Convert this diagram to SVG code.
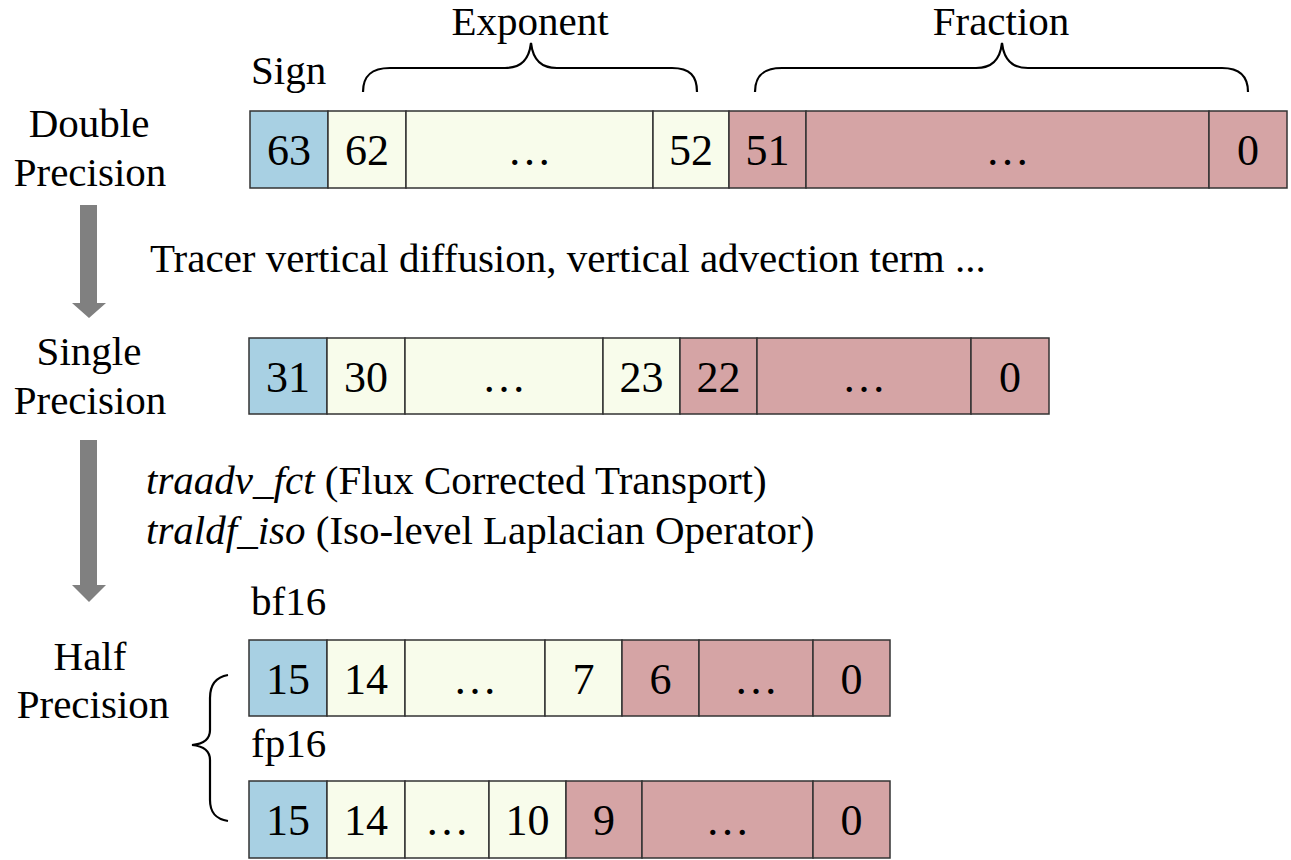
<svg xmlns="http://www.w3.org/2000/svg" width="1291" height="860" viewBox="0 0 1291 860">
  <defs>
    <style>
      .t { font-family: 'Liberation Serif', 'Times New Roman', serif; font-size: 41px; fill: #000; }
      .n { font-family: 'Liberation Serif', 'Times New Roman', serif; font-size: 44px; fill: #000; text-anchor: middle; }
      .mid { text-anchor: middle; }
      .it { font-style: italic; }
      .cell { stroke: #333; stroke-width: 1.5; }
      .sign { fill: #A8D0E3; }
      .exp { fill: #F8FCEB; }
      .frac { fill: #D5A4A5; }
      .brace { fill: none; stroke: #000; stroke-width: 2.2; }
      .arrow { fill: #808080; }
    </style>
  </defs>
  <rect width="1291" height="860" fill="#fff"/>

  <!-- format labels -->
  <g id="label-double">
    <text class="t mid" x="89" y="137">Double</text>
    <text class="t mid" x="90" y="186">Precision</text>
  </g>
  <g id="label-single">
    <text class="t mid" x="89" y="365">Single</text>
    <text class="t mid" x="90" y="414">Precision</text>
  </g>
  <g id="label-half">
    <text class="t mid" x="90" y="670">Half</text>
    <text class="t mid" x="93" y="718">Precision</text>
  </g>

  <!-- field headers over the 64-bit layout -->
  <g id="header-sign"><text class="t" x="251" y="84">Sign</text></g>
  <g id="header-exponent">
    <path class="brace" d="M363,92 C363,76 371,68 390,68 L505,68 C521,68 529,60 531,43 C533,60 541,68 557,68 L672,68 C690,68 697,76 697,92"/>
    <text class="t mid" x="530" y="35">Exponent</text>
  </g>
  <g id="header-fraction">
    <path class="brace" d="M755,92 C755,76 763,68 782,68 L976,68 C992,68 1000,60 1002,43 C1004,60 1012,68 1028,68 L1222,68 C1240,68 1248,76 1248,92"/>
    <text class="t mid" x="1001" y="35">Fraction</text>
  </g>

  <!-- 64-bit double -->
  <g id="bits-double">
    <rect class="cell sign" x="250" y="111" width="78" height="77"/>
    <rect class="cell exp" x="328" y="111" width="78" height="77"/>
    <rect class="cell exp" x="406" y="111" width="247" height="77"/>
    <rect class="cell exp" x="653" y="111" width="76" height="77"/>
    <rect class="cell frac" x="729" y="111" width="77" height="77"/>
    <rect class="cell frac" x="806" y="111" width="403" height="77"/>
    <rect class="cell frac" x="1209" y="111" width="78" height="77"/>
    <text class="n" x="289" y="165">63</text>
    <text class="n" x="367" y="165">62</text>
    <text class="n" x="529.5" y="165">…</text>
    <text class="n" x="691" y="165">52</text>
    <text class="n" x="767.5" y="165">51</text>
    <text class="n" x="1007.5" y="165">…</text>
    <text class="n" x="1248" y="165">0</text>
  </g>

  <!-- 32-bit single -->
  <g id="bits-single">
    <rect class="cell sign" x="249" y="338" width="78" height="76"/>
    <rect class="cell exp" x="327" y="338" width="78" height="76"/>
    <rect class="cell exp" x="405" y="338" width="198" height="76"/>
    <rect class="cell exp" x="603" y="338" width="77" height="76"/>
    <rect class="cell frac" x="680" y="338" width="77" height="76"/>
    <rect class="cell frac" x="757" y="338" width="214" height="76"/>
    <rect class="cell frac" x="971" y="338" width="78" height="76"/>
    <text class="n" x="288" y="392">31</text>
    <text class="n" x="366" y="392">30</text>
    <text class="n" x="504" y="392">…</text>
    <text class="n" x="641.5" y="392">23</text>
    <text class="n" x="718.5" y="392">22</text>
    <text class="n" x="864" y="392">…</text>
    <text class="n" x="1010" y="392">0</text>
  </g>

  <!-- 16-bit bf16 -->
  <g id="bits-bf16">
    <text class="t" x="251" y="615">bf16</text>
    <rect class="cell sign" x="249" y="640" width="78" height="76"/>
    <rect class="cell exp" x="327" y="640" width="78" height="76"/>
    <rect class="cell exp" x="405" y="640" width="140" height="76"/>
    <rect class="cell exp" x="545" y="640" width="77" height="76"/>
    <rect class="cell frac" x="622" y="640" width="77" height="76"/>
    <rect class="cell frac" x="699" y="640" width="114" height="76"/>
    <rect class="cell frac" x="813" y="640" width="77" height="76"/>
    <text class="n" x="288" y="694">15</text>
    <text class="n" x="366" y="694">14</text>
    <text class="n" x="475" y="694">…</text>
    <text class="n" x="583.5" y="694">7</text>
    <text class="n" x="660.5" y="694">6</text>
    <text class="n" x="756" y="694">…</text>
    <text class="n" x="851.5" y="694">0</text>
  </g>

  <!-- 16-bit fp16 -->
  <g id="bits-fp16">
    <text class="t" x="251" y="757">fp16</text>
    <rect class="cell sign" x="249" y="781" width="78" height="77"/>
    <rect class="cell exp" x="327" y="781" width="78" height="77"/>
    <rect class="cell exp" x="405" y="781" width="84" height="77"/>
    <rect class="cell exp" x="489" y="781" width="77" height="77"/>
    <rect class="cell frac" x="566" y="781" width="76" height="77"/>
    <rect class="cell frac" x="642" y="781" width="171" height="77"/>
    <rect class="cell frac" x="813" y="781" width="77" height="77"/>
    <text class="n" x="288" y="835">15</text>
    <text class="n" x="366" y="835">14</text>
    <text class="n" x="447" y="835">…</text>
    <text class="n" x="527.5" y="835">10</text>
    <text class="n" x="604" y="835">9</text>
    <text class="n" x="727.5" y="835">…</text>
    <text class="n" x="851.5" y="835">0</text>
  </g>

  <!-- brace grouping the two half formats -->
  <g id="half-brace">
    <path class="brace" d="M228,675 C216,677 210,684 210,698 L210,730 C210,740 203,744 192,745 C203,746 210,750 210,760 L210,800 C210,813 216,819 228,821"/>
  </g>

  <!-- conversion arrows and their notes -->
  <g id="connectors">
    <polygon class="arrow" points="80,205 97,205 97,303 106,303 89,318 72,303 80,303"/>
    <polygon class="arrow" points="80,440 97,440 97,585 106,585 89,602 72,585 80,585"/>
  </g>
  <g id="note-double-to-single">
    <text class="t" x="150" y="272">Tracer vertical diffusion, vertical advection term ...</text>
  </g>
  <g id="note-single-to-half">
    <text class="t" x="146" y="494"><tspan class="it">traadv_fct</tspan> (Flux Corrected Transport)</text>
    <text class="t" x="146" y="544"><tspan class="it">traldf_iso</tspan> (Iso-level Laplacian Operator)</text>
  </g>
</svg>
